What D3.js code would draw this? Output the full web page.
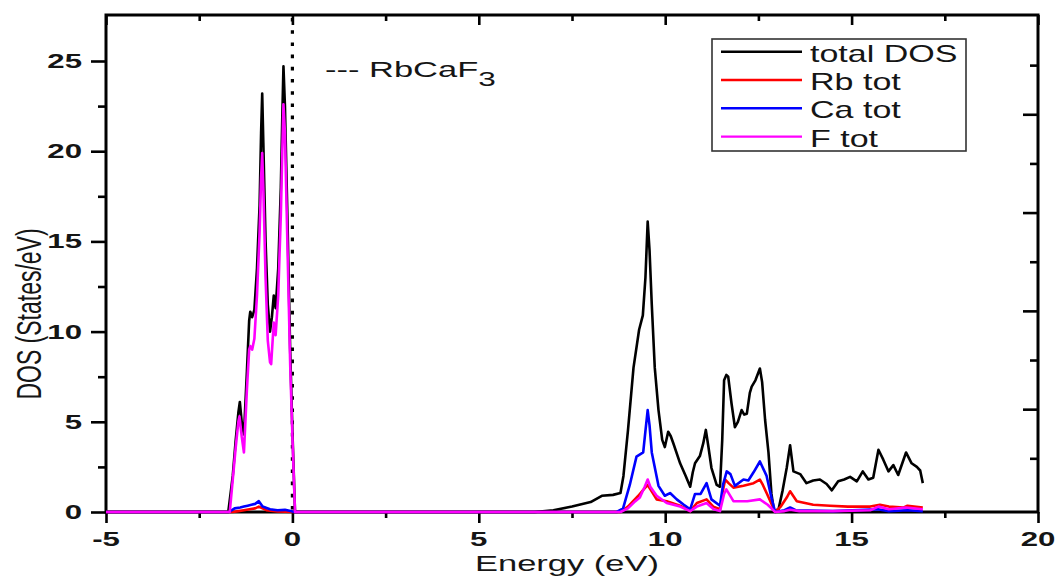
<!DOCTYPE html>
<html>
<head>
<meta charset="utf-8">
<script src="https://cdn.jsdelivr.net/npm/d3@7"></script>
<style>
  body { margin: 0; background: #fff; }
  svg { display: block; }
  text { font-family: "Liberation Sans", Arial, sans-serif; fill: #151515; }
</style>
</head>
<body>
<svg id="chart" width="1060" height="578"></svg>
<script>
'use strict'

// [energy (eV), DOS (states/eV)]
const totalDos = [
  [-5, 0], [-1.72, 0], [-1.6, 2.0], [-1.52, 4.0], [-1.45, 5.5], [-1.41, 6.1], [-1.36, 5.0], [-1.3, 4.3],
  [-1.22, 7.8], [-1.16, 10.6], [-1.13, 11.1], [-1.08, 10.8], [-1.02, 11.2], [-0.95, 13.5], [-0.88, 17],
  [-0.84, 21], [-0.81, 23.2], [-0.78, 20.5], [-0.72, 15], [-0.66, 11.5], [-0.6, 10.0], [-0.55, 10.8],
  [-0.5, 12.0], [-0.45, 11.3], [-0.38, 13.5], [-0.31, 18], [-0.27, 22], [-0.24, 24.7], [-0.2, 22.5],
  [-0.13, 16], [-0.06, 9], [0.0, 4.5], [0.07, 0],
  [6.5, 0], [7.0, 0.1], [7.5, 0.3], [8.0, 0.55], [8.3, 0.9], [8.6, 0.95], [8.8, 1.05], [8.88, 2.0],
  [9.0, 4.5], [9.15, 8.0], [9.3, 10.1], [9.4, 10.9], [9.47, 13], [9.53, 16.1], [9.58, 14.5], [9.64, 11.5],
  [9.72, 8], [9.82, 5.65], [9.92, 4.0], [9.99, 3.6], [10.08, 4.45], [10.15, 4.2], [10.22, 3.8], [10.4, 2.7],
  [10.55, 2.0], [10.67, 1.4], [10.74, 2.2], [10.8, 2.7], [10.93, 3.1], [11.02, 3.8], [11.09, 4.55],
  [11.16, 3.6], [11.24, 2.45], [11.38, 1.5], [11.47, 1.4], [11.53, 4.0], [11.58, 7.3], [11.64, 7.6],
  [11.69, 7.5], [11.78, 6.0], [11.87, 4.7], [11.95, 5.0], [12.05, 5.65], [12.12, 5.4], [12.19, 5.45],
  [12.27, 6.6], [12.32, 6.95], [12.42, 7.3], [12.54, 7.95], [12.6, 7.2], [12.68, 5.1], [12.77, 3.3],
  [12.85, 1.0], [12.92, 0.05], [13.04, 0.15], [13.15, 1.2], [13.26, 2.45], [13.35, 3.7], [13.44, 2.25],
  [13.62, 2.1], [13.79, 1.6], [13.97, 1.75], [14.15, 1.8], [14.33, 1.55], [14.47, 1.2], [14.64, 1.7],
  [14.8, 1.8], [14.96, 1.95], [15.14, 1.7], [15.3, 2.25], [15.45, 1.8], [15.58, 1.9], [15.72, 3.45],
  [15.85, 2.9], [15.99, 2.25], [16.12, 2.6], [16.25, 2.05], [16.46, 3.3], [16.61, 2.7], [16.75, 2.5],
  [16.84, 2.3], [16.91, 1.6]
]

const rbDos = [
  [-5, 0], [-1.6, 0], [-1.45, 0.05], [-1.3, 0.1], [-1.15, 0.15], [-1.0, 0.2], [-0.9, 0.3], [-0.8, 0.2],
  [-0.7, 0.1], [-0.4, 0.03], [0, 0], [8.8, 0], [9.0, 0.3], [9.28, 0.9], [9.4, 1.2], [9.53, 1.5],
  [9.65, 1.1], [9.77, 0.7], [10.04, 0.6], [10.4, 0.35], [10.67, 0.05], [10.85, 0.5], [11.11, 0.7],
  [11.29, 0.3], [11.47, 0.15], [11.55, 1.2], [11.61, 1.8], [11.7, 1.6], [11.83, 1.35], [12.1, 1.45],
  [12.37, 1.6], [12.54, 1.8], [12.62, 1.5], [12.72, 1.05], [12.95, 0], [13.1, 0.3], [13.26, 0.8],
  [13.35, 1.15], [13.53, 0.6], [13.97, 0.4], [14.42, 0.35], [14.9, 0.3], [15.5, 0.3], [15.76, 0.4],
  [16.0, 0.3], [16.4, 0.25], [16.5, 0.35], [16.91, 0.25]
]

const caDos = [
  [-5, 0], [-1.7, 0], [-1.55, 0.2], [-1.4, 0.25], [-1.3, 0.3], [-1.2, 0.35], [-1.1, 0.4], [-1.0, 0.45],
  [-0.9, 0.6], [-0.8, 0.3], [-0.6, 0.15], [-0.4, 0.1], [-0.2, 0.12], [-0.05, 0.05], [0.05, 0],
  [8.7, 0], [8.87, 0.2], [9.05, 1.5], [9.23, 3.07], [9.41, 3.3], [9.47, 4.5], [9.53, 5.65], [9.58, 4.8],
  [9.64, 3.3], [9.82, 1.45], [9.99, 0.9], [10.13, 1.05], [10.31, 0.7], [10.5, 0.4], [10.67, 0.15],
  [10.8, 1.0], [10.95, 1.0], [11.11, 1.6], [11.24, 0.7], [11.47, 0.35], [11.55, 1.5], [11.65, 2.25],
  [11.75, 2.1], [11.87, 1.45], [12.1, 1.8], [12.23, 1.75], [12.37, 2.2], [12.54, 2.8], [12.72, 2.0],
  [12.86, 0.7], [12.95, 0], [13.2, 0.1], [13.35, 0.25], [13.5, 0.1], [14.5, 0.05], [15.7, 0.15],
  [16.0, 0.05], [16.5, 0.1], [16.91, 0.05]
]

const fDos = [
  [-5, 0], [-1.68, 0], [-1.6, 1.8], [-1.52, 3.6], [-1.45, 5.0], [-1.42, 5.3], [-1.36, 4.2], [-1.3, 3.3],
  [-1.22, 6.8], [-1.16, 9.0], [-1.13, 9.2], [-1.08, 9.0], [-1.02, 9.6], [-0.95, 12], [-0.88, 15.5],
  [-0.84, 18.5], [-0.81, 19.9], [-0.78, 18], [-0.72, 13], [-0.66, 9.5], [-0.6, 8.3], [-0.57, 8.2],
  [-0.5, 10.5], [-0.45, 9.8], [-0.38, 12], [-0.31, 16.5], [-0.27, 20], [-0.24, 22.6], [-0.2, 21],
  [-0.13, 14.5], [-0.06, 8.2], [0.0, 4.2], [0.07, 0],
  [8.8, 0], [9.0, 0.2], [9.2, 0.6], [9.32, 0.8], [9.45, 1.4], [9.53, 1.8], [9.6, 1.4], [9.77, 0.9],
  [10.04, 0.5], [10.4, 0.3], [10.67, 0.05], [10.85, 0.3], [11.11, 0.5], [11.3, 0.15], [11.47, 0.05],
  [11.58, 1.0], [11.64, 1.25], [11.83, 0.6], [12.2, 0.6], [12.54, 0.7], [12.75, 0.4], [12.95, 0],
  [13.2, 0.05], [13.35, 0.12], [13.6, 0.05], [14.5, 0.05], [15.5, 0.1], [15.72, 0.3], [16.0, 0.15],
  [16.46, 0.25], [16.91, 0.15]
]

const seriesNames = ['total DOS', 'Rb tot', 'Ca tot', 'F tot']
const seriesColors = ['#000000', '#ff0000', '#0000ff', '#ff00ff']

const xTicks = [-5, 0, 5, 10, 15, 20]
const xMinorTicks = [-2.5, 2.5, 7.5, 12.5, 17.5]
const yTicks = [0, 5, 10, 15, 20, 25]
const yMinorTicks = [2.5, 7.5, 12.5, 17.5, 22.5]
// the right axis is not linked to the left one in the original figure
const rightTicks = [5, 10, 15, 20]
const rightMinorTicks = [2.5, 7.5, 12.5, 17.5, 22.5]

const plot = { left: 106, right: 1038, top: 15, bottom: 512 }
const stretch = 1.5 // the original picture is stretched horizontally

const svg = d3.select('#chart')

const x = d3.scaleLinear().domain([-5, 20]).range([plot.left, plot.right])
const y = d3.scaleLinear().domain([0, 27.55]).range([plot.bottom, plot.top])
const yRight = d3.scaleLinear().domain([-0.18, 25.05]).range([511, plot.top])

function drawAxis(axis, transform) {
  const g = svg.append('g').attr('transform', transform).call(axis)
  g.select('.domain').remove()
  g.selectAll('.tick text').remove()
  g.selectAll('.tick line').attr('stroke', '#000').attr('stroke-width', 2.6)
  return g
}

// bottom & top (ticks pointing down)
drawAxis(d3.axisBottom(x).tickValues(xTicks).tickSize(11), `translate(0,${plot.bottom})`)
drawAxis(d3.axisBottom(x).tickValues(xMinorTicks).tickSize(6), `translate(0,${plot.bottom})`)
drawAxis(d3.axisBottom(x).tickValues(xTicks).tickSize(10), `translate(0,${plot.top})`)
drawAxis(d3.axisBottom(x).tickValues(xMinorTicks).tickSize(6), `translate(0,${plot.top})`)
// left & right (ticks pointing left)
drawAxis(d3.axisLeft(y).tickValues(yTicks).tickSize(15), `translate(${plot.left},0)`)
drawAxis(d3.axisLeft(y).tickValues(yMinorTicks).tickSize(8), `translate(${plot.left},0)`)
drawAxis(d3.axisLeft(yRight).tickValues(rightTicks).tickSize(15), `translate(${plot.right},0)`)
drawAxis(d3.axisLeft(yRight).tickValues(rightMinorTicks).tickSize(8), `translate(${plot.right},0)`)

// frame
svg.append('rect')
  .attr('x', plot.left).attr('y', plot.top)
  .attr('width', plot.right - plot.left).attr('height', plot.bottom - plot.top)
  .attr('fill', 'none').attr('stroke', '#000').attr('stroke-width', 3)

// tick labels
const fmt = v => String(v)
svg.append('g').selectAll('text').data(xTicks).join('text')
  .attr('transform', d => `translate(${x(d)},546) scale(1.6,1)`)
  .attr('text-anchor', 'middle')
  .style('font-size', '19.5px').style('font-weight', 'bold')
  .text(fmt)

svg.append('g').selectAll('text').data(yTicks).join('text')
  .attr('transform', d => `translate(82,${y(d) + 7}) scale(1.6,1)`)
  .attr('text-anchor', 'end')
  .style('font-size', '19.5px').style('font-weight', 'bold')
  .text(fmt)

// axis titles
svg.append('text')
  .attr('transform', `translate(567,571) scale(${stretch},1)`)
  .attr('text-anchor', 'middle').style('font-size', '23px')
  .text('Energy (eV)')

svg.append('text')
  .attr('transform', `translate(40.5,314) scale(${stretch},1) rotate(-90)`)
  .attr('text-anchor', 'middle').style('font-size', '23px')
  .text('DOS (States/eV)')

// Fermi level
svg.append('line')
  .attr('x1', x(0)).attr('x2', x(0))
  .attr('y1', plot.top + 3).attr('y2', plot.bottom)
  .attr('stroke', '#000').attr('stroke-width', 3.2)
  .attr('stroke-dasharray', '3.6,8.6')

// curves
const line = d3.line().x(d => x(d[0])).y(d => y(d[1]))
const allSeries = [totalDos, rbDos, caDos, fDos]

svg.append('g').selectAll('path').data(allSeries).join('path')
  .attr('d', line)
  .attr('fill', 'none')
  .attr('stroke', (d, i) => seriesColors[i])
  .attr('stroke-width', 2.6)
  .attr('stroke-linejoin', 'round')

// annotation
const note = svg.append('text')
  .attr('transform', `translate(325,77) scale(${stretch},1)`)
  .style('font-size', '23px')
note.append('tspan').text('--- RbCaF')
note.append('tspan').attr('dy', 9).style('font-size', '21px').text('3')

// legend
const legend = svg.append('g')
legend.append('rect')
  .attr('x', 712).attr('y', 39).attr('width', 254).attr('height', 112)
  .attr('fill', '#fff').attr('stroke', '#333').attr('stroke-width', 1.6)

const rows = legend.selectAll('g.row').data(seriesNames).join('g')
  .attr('class', 'row')
  .attr('transform', (d, i) => `translate(0,${61.7 + i * 28.3})`)

rows.append('line')
  .attr('x1', 721).attr('x2', 802).attr('y1', -10).attr('y2', -10)
  .attr('stroke', (d, i) => seriesColors[i]).attr('stroke-width', 2.4)

rows.append('text')
  .attr('transform', `translate(810,0) scale(1.48,1)`)
  .style('font-size', '23px')
  .text(d => d)
</script>
</body>
</html>
